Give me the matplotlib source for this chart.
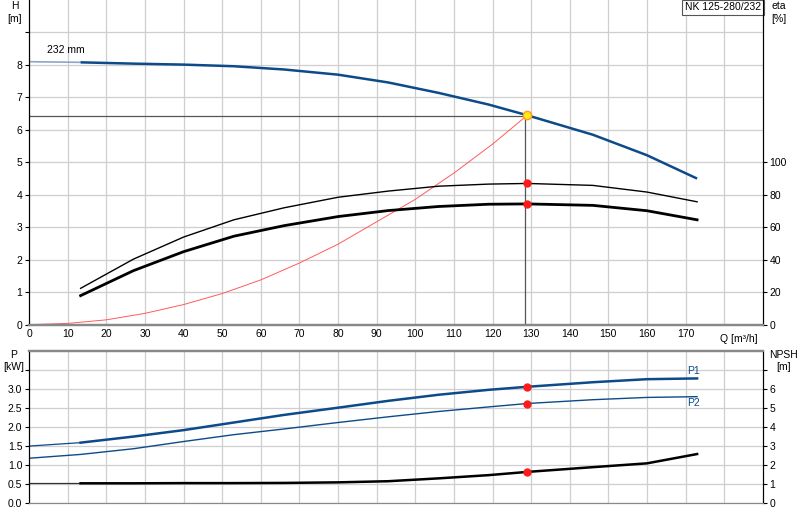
import numpy as np
import matplotlib
matplotlib.use('Agg')
from matplotlib import pyplot as plt

plt.rcParams['font.family'] = ['Liberation Sans', 'DejaVu Sans']
plt.rcParams['font.size'] = 7.5

# --- data ---
# head curve (H, m)
q_h = [0, 13.3, 27, 40, 53, 66, 80, 93, 106, 119, 129, 146, 160, 173]
h = [8.10, 8.08, 8.04, 8.01, 7.96, 7.86, 7.70, 7.46, 7.14, 6.78, 6.45, 5.85, 5.22, 4.50]

# efficiency curves (eta, %)
q_eta = [13.3, 27, 40, 53, 66, 80, 93, 106, 119, 129, 146, 160, 173]
eta_thin = [22.4, 40.4, 54.0, 64.6, 72.0, 78.5, 82.3, 85.3, 86.6, 87.0, 85.8, 81.7, 75.7]
eta_thick = [17.9, 33.3, 45.0, 54.5, 61.0, 66.6, 70.3, 72.8, 74.2, 74.4, 73.5, 70.2, 64.6]

# system curve (red)
q_sys = [0, 10, 20, 30, 40, 50, 60, 70, 80, 90, 100, 110, 120, 129]
h_sys = [0, 0.04, 0.15, 0.35, 0.62, 0.96, 1.38, 1.90, 2.48, 3.17, 3.86, 4.67, 5.56, 6.45]

# power curves (kW) and NPSH (m)
q_p = [0, 13.3, 27, 40, 53, 66, 80, 93, 106, 119, 129, 146, 160, 173]
p1 = [1.49, 1.58, 1.74, 1.91, 2.11, 2.31, 2.50, 2.68, 2.84, 2.97, 3.05, 3.17, 3.25, 3.27]
p2 = [1.17, 1.27, 1.42, 1.61, 1.79, 1.94, 2.11, 2.26, 2.40, 2.52, 2.61, 2.71, 2.77, 2.79]
q_npsh = [0, 13.3, 27, 40, 53, 66, 80, 93, 106, 119, 129, 146, 160, 173]
npsh = [1.02, 1.02, 1.02, 1.03, 1.03, 1.04, 1.07, 1.13, 1.28, 1.45, 1.62, 1.87, 2.07, 2.56]

# duty point
op_q = 128.9
op_h = 6.47
line_q = 128.3
line_h = 6.42
op_eta_thin = 87.0
op_eta_thick = 74.4
op_p1 = 3.05
op_p2 = 2.61
op_npsh = 1.62

blue = '#0d4a8a'
blue_light = '#8aa6c8'
grid_c = '#cfcfcf'

fig = plt.figure(figsize=(8, 5.2), dpi=100)
ax1 = fig.add_axes([0.0366, 0.3756, 0.9168, 0.6244])
ax1b = ax1.twinx()
ax2 = fig.add_axes([0.0366, 0.0333, 0.9168, 0.2923])
ax2b = ax2.twinx()

# ---------- top: H / eta ----------
ax1.set_xlim(0, 190)
ax1.set_ylim(0, 10)
ax1b.set_ylim(0, 200)
ax1.set_xticks(np.arange(0, 190, 10))
ax1.set_xticklabels([str(v) for v in range(0, 180, 10)] + [''])
ax1.set_yticks(np.arange(0, 10, 1))
ax1.set_yticklabels([str(v) for v in range(0, 9)] + [''])
ax1b.set_yticks(np.arange(0, 120, 20))
ax1.grid(True, color=grid_c, lw=0.9)
ax1.set_axisbelow(True)

ax1.plot(q_h[:2], h[:2], color=blue_light, lw=1.2)
ax1.plot(q_h[1:], h[1:], color=blue, lw=1.8, solid_capstyle='butt')
ax1.plot(q_sys, h_sys, color='#ff5a5a', lw=0.7)
ax1b.plot(q_eta, eta_thin, color='black', lw=1.0)
ax1b.plot(q_eta, eta_thick, color='black', lw=2.0)

ax1.plot([0, line_q], [line_h, line_h], color='#555555', lw=0.9)
ax1.plot([line_q, line_q], [0, line_h], color='#555555', lw=0.9)
ax1.plot(op_q, op_h, 'o', ms=6, mfc='#ffe81a', mec='#ff9a1a', mew=1.0, zorder=6)
ax1b.plot([op_q, op_q], [op_eta_thin, op_eta_thick], 'o', ms=5, color='#ff1a1a', zorder=6)

ax1.text(4.5, 8.38, '232 mm', fontsize=7.5)
ax1.text(-3.7, 9.96, 'H\n[m]', ha='center', va='top', fontsize=7.5, linespacing=1.3)
ax1b.text(192.2, 199.2, 'eta\n[%]', ha='left', va='top', fontsize=7.5, linespacing=1.3)
ax1.text(183.8, -0.3, 'Q [m\u00b3/h]', ha='center', va='top', fontsize=7.5)
ax1.text(189.6, 9.93, 'NK 125-280/232', ha='right', va='top', fontsize=7.5,
         bbox=dict(boxstyle='square,pad=0.25', fc='white', ec='#555555', lw=0.8))

for a in (ax1, ax1b):
    a.spines['top'].set_visible(False)
    a.spines['bottom'].set_color('#888888')
    a.spines['bottom'].set_linewidth(1.6)
    a.spines['left'].set_color('black')
    a.spines['right'].set_color('black')
ax1.tick_params(axis='x', length=0, pad=3)
ax1.tick_params(axis='y', length=3, pad=2)
ax1b.tick_params(axis='y', length=3, pad=2)

# ---------- bottom: P / NPSH ----------
ax2.set_xlim(0, 190)
ax2.set_ylim(0, 4.0)
ax2b.set_ylim(0, 8)
ax2.set_xticks(np.arange(0, 190, 10))
ax2.set_xticklabels([])
ax2.set_yticks(np.arange(0, 4.0, 0.5))
ax2.set_yticklabels(['0.0', '0.5', '1.0', '1.5', '2.0', '2.5', '3.0', ''])
ax2b.set_yticks(np.arange(0, 8, 1))
ax2b.set_yticklabels([str(v) for v in range(0, 7)] + [''])
ax2.grid(True, color=grid_c, lw=0.9)
ax2.set_axisbelow(True)

ax2.plot(q_p[:2], p1[:2], color=blue, lw=0.9)
ax2.plot(q_p[1:], p1[1:], color=blue, lw=1.8)
ax2.plot(q_p, p2, color=blue, lw=1.0)
ax2b.plot(q_npsh[:2], npsh[:2], color='#333333', lw=0.9)
ax2b.plot(q_npsh[1:], npsh[1:], color='black', lw=1.8)
ax2.plot([op_q, op_q], [op_p1, op_p2], 'o', ms=5, color='#ff1a1a', zorder=6)
ax2b.plot(op_q, op_npsh, 'o', ms=5, color='#ff1a1a', zorder=6)

ax2.text(172, 3.47, 'P1', color=blue, fontsize=7.5, ha='center', va='center')
ax2.text(172, 2.62, 'P2', color=blue, fontsize=7.5, ha='center', va='center')
ax2.text(-4.0, 4.02, 'P\n[kW]', ha='center', va='top', fontsize=7.5, linespacing=1.3)
ax2b.text(195.5, 8.04, 'NPSH\n[m]', ha='center', va='top', fontsize=7.5, linespacing=1.3)

for a in (ax2, ax2b):
    a.spines['top'].set_color('#888888')
    a.spines['top'].set_linewidth(1.6)
    a.spines['bottom'].set_color('#888888')
    a.spines['left'].set_color('black')
    a.spines['right'].set_color('black')
ax2.tick_params(axis='x', length=0)
ax2.tick_params(axis='y', length=3, pad=2)
ax2b.tick_params(axis='y', length=3, pad=2)

fig.savefig('out.png', dpi=100)
